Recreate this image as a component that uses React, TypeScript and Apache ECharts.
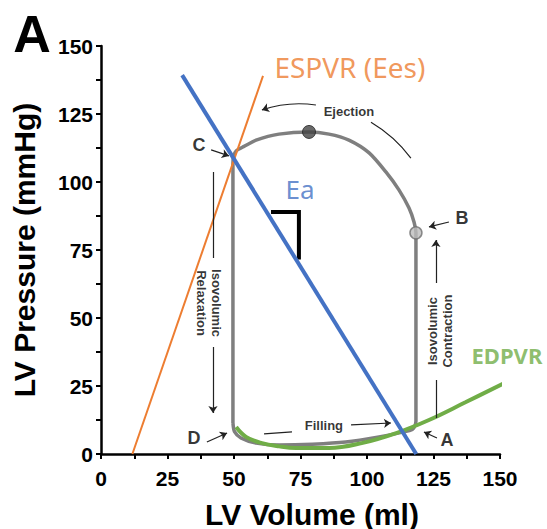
import React, { useEffect, useRef } from "react";
import * as echarts from "echarts";

// ---- data (volume ml, pressure mmHg) ----
const xTickValues = [0, 25, 50, 75, 100, 125, 150];
const yTickValues = [0, 25, 50, 75, 100, 125, 150];

const pvLoop: [number, number][] = [
  [49.6, 11.4], [49.6, 60], [49.6, 107], [49.9, 109.6], [50.8, 111.4], [53.8, 113.1],
  [58.3, 115.4], [66.9, 117.6], [78.2, 118.4], [85.7, 117.6], [93.2, 115.4],
  [100.8, 110.7], [107.1, 103.7], [112, 97.1], [115.8, 90.4], [117.7, 85.2],
  [118.4, 81.3], [118.4, 45], [118.4, 12], [117.6, 9.6], [116, 8.6], [104.5, 6.3],
  [92, 4.4], [79.5, 3.6], [67, 3.3], [58.3, 4], [52.6, 5.9], [50.2, 8.2], [49.6, 11.4],
];

const edpvr: [number, number][] = [
  [50.8, 9.9], [54.5, 6.3], [60.5, 4], [67, 2.8], [73.3, 2.2], [85.7, 2.2],
  [98, 4], [111, 7.7], [123.3, 12.5], [137, 19], [151.5, 26],
];

const espvr: [number, number][] = [[11.8, 0], [60.9, 139]];
const eaLine: [number, number][] = [[30.5, 139.3], [118.5, 0]];
const eaSlopeMarker: [number, number][] = [[63.9, 89], [74.4, 89], [74.4, 71.5]];

const peakPoint: [number, number] = [78.2, 118.4];
const pointB: [number, number] = [118.4, 81.3];

const arrowSegments: [number, number][][] = [
  [[41.4, 111.8], [48.1, 109.6]], // C
  [[130.8, 85.3], [123.3, 83.5]], // B
  [[126.3, 5.9], [121.4, 8.1]], // A
  [[39.8, 4.4], [47.4, 7.7]], // D
  [[42.1, 39.3], [42.1, 15.1]], // relaxation
  [[125.9, 62.9], [125.9, 78.7]], // contraction
  [[94, 10.7], [109, 11.4]], // filling
];
const plainSegments: [number, number][][] = [
  [[42.1, 103.7], [42.1, 72.1]],
  [[125.9, 13.2], [125.9, 27.2]],
  [[61.3, 7.4], [71.8, 8.1]],
];
const ejectionArrowArc: [number, number][] = [[80.8, 128.3], [60.5, 126.5]];
const ejectionPlainArc: [number, number][] = [[101.5, 122], [116.5, 108.8]];

const pointLetters: [string, number, number][] = [
  ["A", 130.1, 5.1], ["B", 135.7, 86.8], ["C", 36.8, 113.6], ["D", 35, 5.9],
];
const phaseLabels: [string, number, number][] = [
  ["Ejection", 93.2, 126.1], ["Filling", 83.8, 10.3],
];
const rotatedLabels: [string, number, number, number][] = [
  ["Isovolumic\nRelaxation", 40.6, 55.5, -90],
  ["Isovolumic\nContraction", 127.3, 45.2, 90],
];
const espvrLabel: [string, number, number] = ["ESPVR (Ees)", 65.0, 142.3];
const eaLabel: [string, number, number] = ["Ea", 69.2, 97.4];
const edpvrLabel: [string, number, number] = ["EDPVR", 139.1, 36.4];

const xTitle = "LV Volume (ml)";
const yTitle = "LV Pressure (mmHg)";
const panelLetter = "A";

const ORANGE = "#ED7D31";
const BLUE = "#4472C4";
const GREEN = "#70AD47";
const LOOP = "#7f7f7f";

export default function App() {
  const ref = useRef<HTMLDivElement>(null);
  useEffect(() => {
    if (!ref.current) return;
    document.body.style.margin = "0";
    const chart = echarts.init(ref.current, undefined, { renderer: "svg" });
    const baseFont = "'Liberation Sans', Arial, sans-serif";
    const textFont = "'Noto Sans', 'Open Sans', sans-serif";
    const axisCommon = {
      type: "value" as const,
      min: xTickValues[0],
      max: xTickValues[xTickValues.length - 1],
      interval: 25,
      splitLine: { show: false },
      axisLine: { show: true, lineStyle: { color: "#000", width: 2.5 } },
      axisTick: { show: true, length: 5, lineStyle: { color: "#000", width: 2 } },
      minorTick: { show: true, splitNumber: 2, length: 5, lineStyle: { color: "#000", width: 2 } },
    };
    const labelItem = (t: [string, number, number], style: any) => ({
      value: [t[1], t[2]],
      label: { show: true, formatter: t[0], ...style },
    });
    chart.setOption({
      animation: false,
      grid: { left: 101, right: 47, top: 46, bottom: 75, containLabel: false },
      xAxis: {
        ...axisCommon,
        axisLabel: { color: "#000", fontSize: 21, fontWeight: "bold", fontFamily: baseFont, margin: 14 },
      },
      yAxis: {
        ...axisCommon,
        min: yTickValues[0],
        max: yTickValues[yTickValues.length - 1],
        axisLabel: { color: "#000", fontSize: 21, fontWeight: "bold", fontFamily: baseFont, margin: 8 },
      },
      graphic: [
        {
          type: "text", x: 32, y: 34,
          style: { text: panelLetter, fill: "#000", font: `900 52px ${baseFont}`, textAlign: "center", textVerticalAlign: "middle" },
        },
        {
          type: "text", x: 312, y: 514,
          style: { text: xTitle, fill: "#000", font: `bold 30px ${baseFont}`, textAlign: "center", textVerticalAlign: "middle" },
        },
        {
          type: "text", x: 24, y: 250, rotation: Math.PI / 2,
          style: { text: yTitle, fill: "#000", font: `bold 30px ${baseFont}`, textAlign: "center", textVerticalAlign: "middle" },
        },
      ],
      series: [
        {
          type: "line", data: pvLoop, smooth: 0.25, symbol: "none",
          lineStyle: { color: LOOP, width: 3.5 }, z: 2,
        },
        {
          type: "line", data: espvr, symbol: "none",
          lineStyle: { color: ORANGE, width: 2 }, z: 3,
        },
        {
          type: "line", data: edpvr, smooth: 0.4, symbol: "none", clip: false,
          lineStyle: { color: GREEN, width: 4 }, z: 4,
        },
        {
          type: "line", data: eaLine, symbol: "none",
          lineStyle: { color: BLUE, width: 4 }, z: 5,
        },
        {
          type: "line", data: eaSlopeMarker, symbol: "none",
          lineStyle: { color: "#000", width: 4, join: "miter", cap: "butt" }, z: 4,
        },
        {
          type: "scatter", symbolSize: 13, z: 6,
          data: [peakPoint],
          itemStyle: { color: "#444", borderColor: "#222", borderWidth: 1 },
        },
        {
          type: "scatter", symbolSize: 12, z: 6,
          data: [pointB],
          itemStyle: { color: "#bdbdbd", borderColor: "#6f6f6f", borderWidth: 1.5 },
        },
        {
          type: "lines", coordinateSystem: "cartesian2d", z: 7,
          symbol: ["none", "arrow"], symbolSize: 7,
          lineStyle: { color: "#222", width: 1.2, opacity: 1 },
          data: arrowSegments.map((c) => ({ coords: c })),
        },
        {
          type: "lines", coordinateSystem: "cartesian2d", z: 7,
          symbol: ["none", "none"],
          lineStyle: { color: "#222", width: 1.2, opacity: 1 },
          data: plainSegments.map((c) => ({ coords: c })),
        },
        {
          type: "lines", coordinateSystem: "cartesian2d", z: 7,
          symbol: ["none", "arrow"], symbolSize: 7,
          lineStyle: { color: "#222", width: 1.2, opacity: 1, curveness: -0.12 },
          data: [{ coords: ejectionArrowArc }],
        },
        {
          type: "lines", coordinateSystem: "cartesian2d", z: 7,
          symbol: ["none", "none"],
          lineStyle: { color: "#222", width: 1.2, opacity: 1, curveness: 0.1 },
          data: [{ coords: ejectionPlainArc }],
        },
        {
          type: "scatter", symbolSize: 1, z: 8, silent: true,
          itemStyle: { color: "transparent" },
          data: [
            ...pointLetters.map((t) =>
              labelItem(t, { position: "inside", color: "#000", fontSize: 18, fontWeight: "bold", fontFamily: baseFont })
            ),
            ...phaseLabels.map((t) =>
              labelItem(t, { position: "inside", color: "#000", fontSize: 13, fontWeight: "bold", fontFamily: baseFont })
            ),
            ...rotatedLabels.map((t) => ({
              value: [t[1], t[2]],
              label: {
                show: true, formatter: t[0], position: "inside", rotate: t[3], align: "center",
                color: "#000", fontSize: 13, fontWeight: "bold", fontFamily: baseFont, lineHeight: 15,
              },
            })),
            labelItem(espvrLabel, { position: "right", distance: 0, color: ORANGE, fontSize: 28, fontFamily: textFont }),
            labelItem(eaLabel, { position: "right", distance: 0, color: BLUE, fontSize: 26, fontFamily: textFont }),
            labelItem(edpvrLabel, { position: "right", distance: 0, color: GREEN, fontSize: 22, fontWeight: "bold", fontFamily: textFont }),
          ],
        },
      ],
    });
    return () => chart.dispose();
  }, []);
  return <div ref={ref} style={{ width: 547, height: 529 }} />;
}
